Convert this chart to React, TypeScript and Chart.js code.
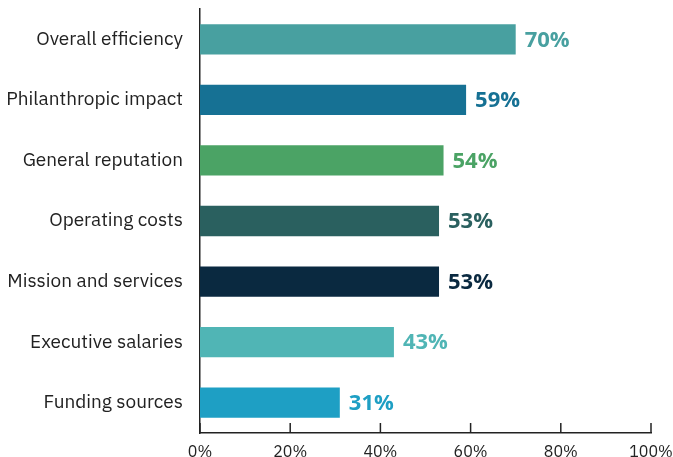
import React, { useEffect, useRef } from "react";
import { Chart, registerables } from "chart.js";

Chart.register(...registerables);

const categories = [
  "Overall efficiency",
  "Philanthropic impact",
  "General reputation",
  "Operating costs",
  "Mission and services",
  "Executive salaries",
  "Funding sources",
];
const values = [70, 59, 54, 53, 53, 43, 31];
const barColors = ["#48A0A0", "#167194", "#4BA365", "#2A605F", "#0A2940", "#50B5B5", "#1E9FC4"];
const xTicks = [0, 20, 40, 60, 80, 100];

const AXIS_COLOR = "#222222";

const valueLabels = {
  id: "valueLabels",
  afterDatasetsDraw(chart: any) {
    const ctx = chart.ctx;
    const meta = chart.getDatasetMeta(0);
    ctx.save();
    ctx.font = "700 22px 'Open Sans', sans-serif";
    ctx.textBaseline = "middle";
    ctx.textAlign = "left";
    meta.data.forEach((el: any, i: number) => {
      ctx.fillStyle = barColors[i];
      ctx.fillText(values[i] + "%", el.x + 9, el.y + 1);
    });
    ctx.restore();
  },
};

const innerTicks = {
  id: "innerTicks",
  afterDraw(chart: any) {
    const ctx = chart.ctx;
    const x = chart.scales.x;
    const bottom = chart.chartArea.bottom;
    ctx.save();
    ctx.strokeStyle = AXIS_COLOR;
    ctx.lineWidth = 1.5;
    xTicks.forEach((v) => {
      const px = x.getPixelForValue(v);
      ctx.beginPath();
      ctx.moveTo(px, bottom - 10);
      ctx.lineTo(px, bottom);
      ctx.stroke();
    });
    ctx.restore();
  },
};

export default function App() {
  const ref = useRef<HTMLCanvasElement>(null);
  useEffect(() => {
    const chart = new Chart(ref.current!, {
      type: "bar",
      data: {
        labels: categories,
        datasets: [
          {
            data: values,
            backgroundColor: barColors,
            borderWidth: 0,
            barPercentage: 0.5,
            categoryPercentage: 1,
          },
        ],
      },
      options: {
        indexAxis: "y",
        animation: false,
        responsive: false,
        maintainAspectRatio: false,
        layout: { padding: { top: 9, right: 22, bottom: 0, left: 0 } },
        plugins: { legend: { display: false }, tooltip: { enabled: false } },
        scales: {
          x: {
            min: 0,
            max: 100,
            afterBuildTicks: (s: any) => {
              s.ticks = xTicks.map((v) => ({ value: v }));
            },
            grid: { display: false },
            border: { display: true, color: AXIS_COLOR, width: 1.5 },
            ticks: {
              color: "#222222",
              font: { family: "'IBM Plex Sans', 'Noto Sans', sans-serif", size: 16 },
              padding: 2,
              maxRotation: 0,
              callback: (v: any) => v + "%",
            },
            afterFit: (s: any) => {
              s.height = 24;
              s.paddingLeft = 0;
              s.paddingRight = 0;
            },
          },
          y: {
            grid: { display: false },
            border: { display: true, color: AXIS_COLOR, width: 1.5 },
            ticks: {
              color: "#222222",
              font: { family: "'IBM Plex Sans', 'Noto Sans', sans-serif", size: 19 },
              padding: 9,
            },
            afterFit: (s: any) => {
              s.width = 200;
              s.paddingTop = 0;
              s.paddingBottom = 0;
            },
          },
        },
      },
      plugins: [valueLabels, innerTicks],
    });
    return () => chart.destroy();
  }, []);
  return (
    <div style={{ position: "fixed", left: 0, top: 0, width: 673, height: 457, background: "#fff" }}>
      <canvas ref={ref} width={673} height={457} style={{ width: 673, height: 457 }} />
    </div>
  );
}
